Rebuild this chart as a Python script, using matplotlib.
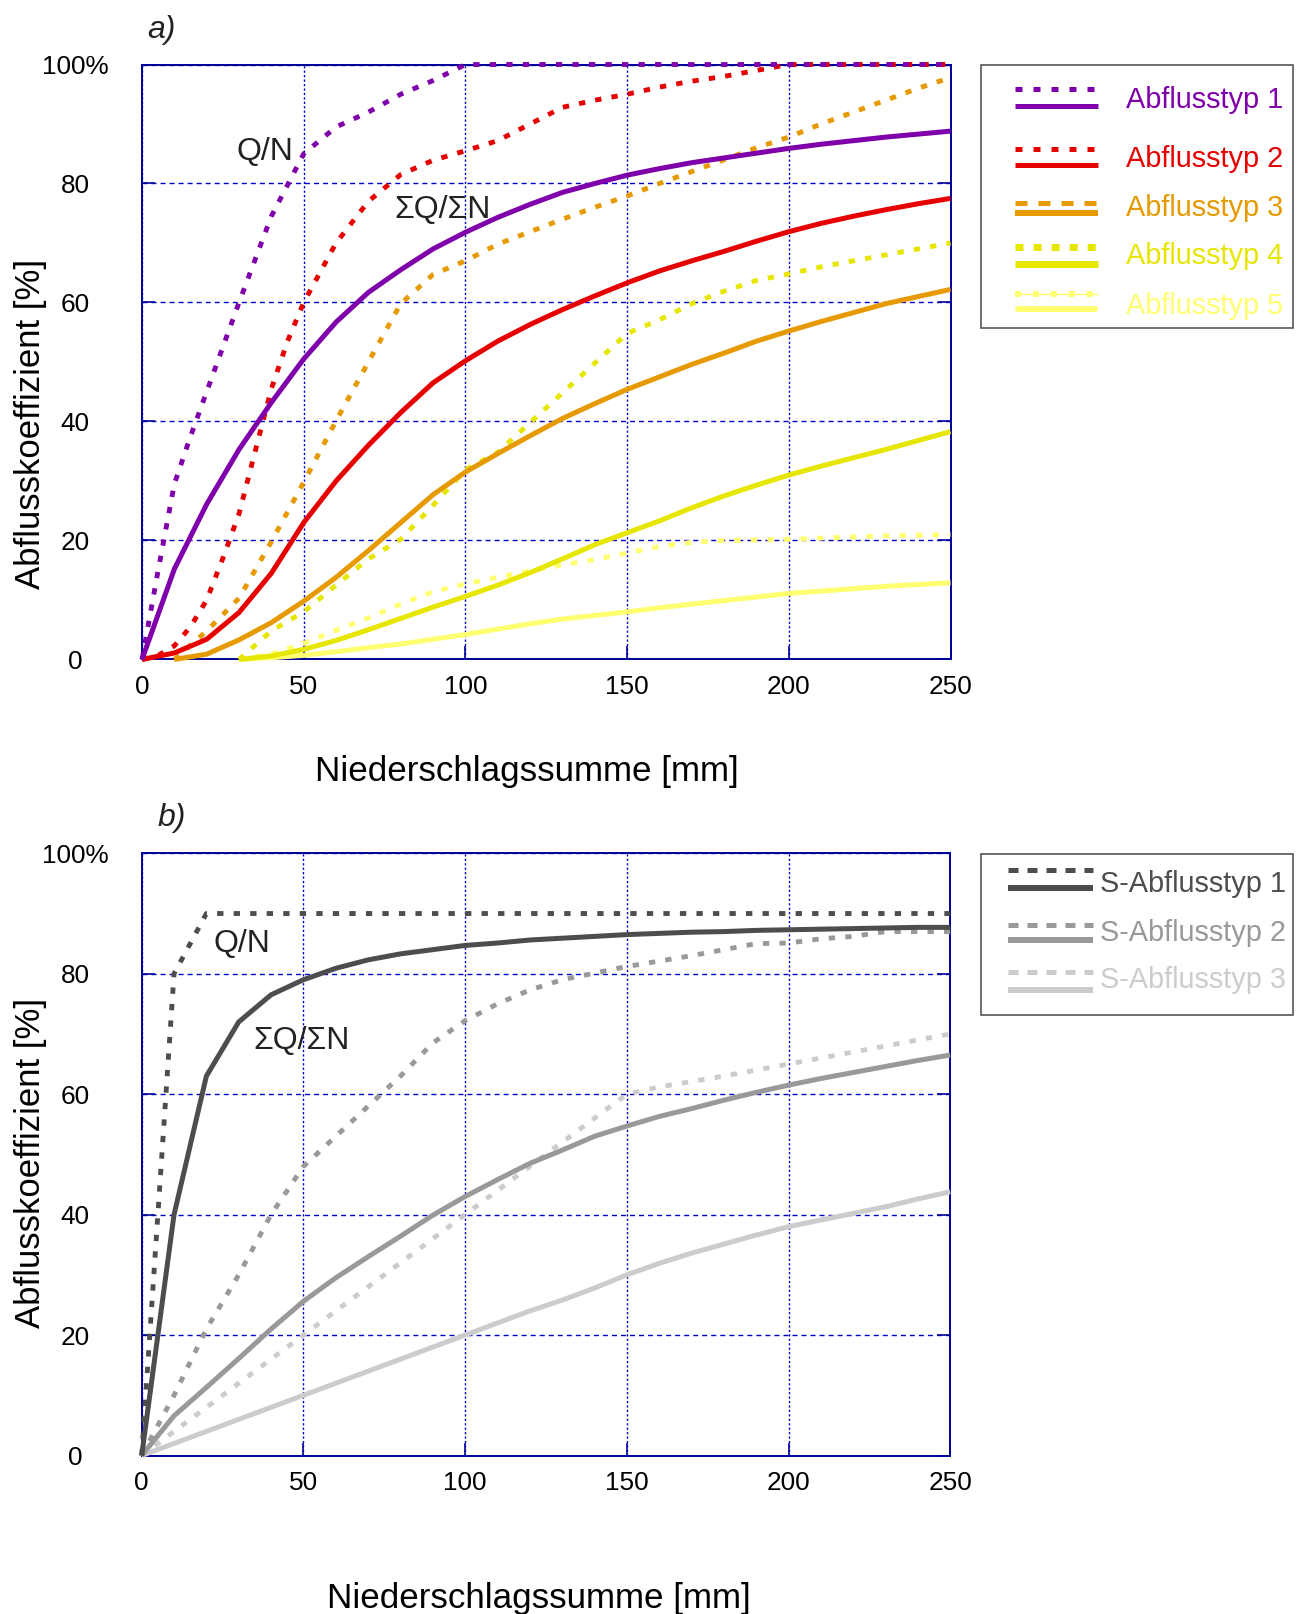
import matplotlib
matplotlib.use('Agg')
import matplotlib.pyplot as plt
from matplotlib.lines import Line2D
from matplotlib.patches import Rectangle

plt.rcParams['font.family'] = ['Liberation Sans', 'DejaVu Sans']

# ---------------- data ----------------
x_ticks = [0, 50, 100, 150, 200, 250]
y_ticks = [0, 20, 40, 60, 80, 100]
y_tick_labels = ['0', '20', '40', '60', '80', '100%']

xlabel = 'Niederschlagssumme [mm]'
ylabel = 'Abflusskoeffizient [%]'

# panel a) - Abflusstypen 1..5 ; "qn" = Q/N (dotted), "cum" = ΣQ/ΣN (solid)
a_names = ['Abflusstyp 1', 'Abflusstyp 2', 'Abflusstyp 3', 'Abflusstyp 4', 'Abflusstyp 5']
a_colors = ['#7F00AA', '#E60000', '#E69A00', '#E6E600', '#FFFF70']

a1_qn_x = [0, 5, 10, 15, 20, 30, 40, 50, 60, 70, 80, 90, 100, 250]
a1_qn_y = [0, 15, 29.5, 37.5, 45, 60, 74.5, 85, 89.5, 92, 95, 97.3, 100, 100]
a1_cum_x = list(range(0, 251, 10))
a1_cum_y = [0, 15.2, 26.1, 35.3, 43.2, 50.5, 56.7, 61.7, 65.5, 69, 71.8, 74.3, 76.5,
            78.5, 80, 81.4, 82.5, 83.5, 84.3, 85.1, 85.9, 86.6, 87.2, 87.8, 88.3, 88.8]

a2_qn_x = [0, 5, 10, 15, 20, 25, 30, 35, 40, 45, 50, 60, 70, 80, 90, 100, 110, 120,
           130, 140, 150, 160, 170, 180, 190, 200, 250]
a2_qn_y = [0, 0.7, 2.3, 5.5, 10, 17, 24.5, 35, 45.5, 53.5, 60, 70, 77, 81.5, 83.9, 85.5,
           87.2, 90, 92.8, 94, 95, 96.2, 97.2, 98, 99, 100, 100]
a2_cum_x = list(range(0, 251, 10))
a2_cum_y = [0, 1.1, 3.4, 7.9, 14.5, 23, 30, 36, 41.5, 46.5, 50.2, 53.5, 56.3, 58.8, 61.1,
            63.3, 65.3, 67, 68.6, 70.3, 71.9, 73.3, 74.5, 75.6, 76.6, 77.5]

a3_qn_x = list(range(10, 251, 10))
a3_qn_y = [0, 4.8, 10.3, 19.8, 29.8, 40.1, 50, 59.8, 64.7, 67, 69.8, 71.9, 74, 76, 77.9,
           80, 82, 84, 86, 87.8, 90, 92, 94, 96, 97.8]
a3_cum_x = list(range(10, 251, 10))
a3_cum_y = [0, 0.9, 3.3, 6.2, 9.8, 13.8, 18.3, 23, 27.7, 31.5, 34.6, 37.6, 40.5, 43, 45.4,
            47.5, 49.6, 51.5, 53.5, 55.2, 56.8, 58.3, 59.8, 61, 62.2]

a4_qn_x = list(range(30, 251, 10))
a4_qn_y = [0, 4.8, 8, 12.5, 16.9, 20.2, 25.9, 31.9, 34.8, 39.8, 44.8, 49.8, 54.8, 57.1,
           59.8, 61.9, 63.7, 64.8, 66, 67, 68, 69, 70]
a4_cum_x = list(range(30, 251, 10))
a4_cum_y = [0, 0.6, 1.7, 3.2, 5, 6.9, 8.8, 10.6, 12.5, 14.6, 16.9, 19.3, 21.3, 23.3, 25.5,
            27.5, 29.3, 31, 32.5, 33.9, 35.3, 36.8, 38.3]

a5_qn_x = list(range(30, 251, 10))
a5_qn_y = [0, 0.9, 2.7, 4.9, 7, 9.3, 11.4, 12.7, 13.8, 14.9, 15.9, 16.8, 17.9, 19, 19.7,
           20, 20.1, 20.2, 20.4, 20.6, 20.8, 20.9, 21]
a5_cum_x = list(range(30, 251, 10))
a5_cum_y = [0, 0.3, 0.7, 1.3, 2, 2.6, 3.4, 4.2, 5.1, 6, 6.8, 7.4, 8, 8.7, 9.3, 9.9, 10.5,
            11.1, 11.5, 11.9, 12.3, 12.6, 12.9]

# panel b) - S-Abflusstypen 1..3
b_names = ['S-Abflusstyp 1', 'S-Abflusstyp 2', 'S-Abflusstyp 3']
b_colors = ['#4D4D4D', '#999999', '#CCCCCC']

b1_qn_x = [0, 10, 20, 250]
b1_qn_y = [0, 80, 90, 90]
b1_cum_x = list(range(0, 251, 10))
b1_cum_y = [0, 40, 63, 72, 76.5, 79, 80.9, 82.3, 83.3, 84, 84.7, 85.1, 85.6, 85.9, 86.2,
            86.5, 86.7, 86.9, 87, 87.2, 87.3, 87.4, 87.5, 87.6, 87.7, 87.7]

b2_qn_x = list(range(0, 251, 10))
b2_qn_y = [0, 10, 21, 30, 40, 48, 53, 58, 63, 68.5, 72.2, 75, 77.3, 79, 80.1, 81.2, 82.1,
           83, 84, 85, 85.1, 85.8, 86.2, 87, 87, 87]
b2_cum_x = list(range(0, 251, 10))
b2_cum_y = [0, 6.6, 11.3, 16.1, 21, 25.6, 29.5, 33, 36.4, 39.9, 43, 45.8, 48.5, 50.7, 53,
            54.7, 56.3, 57.6, 59, 60.3, 61.5, 62.6, 63.6, 64.6, 65.6, 66.5]

b3_qn_x = list(range(0, 251, 10))
b3_qn_y = [0, 4, 8, 12, 16, 20, 24, 28, 32, 36, 40, 44, 48, 52, 56, 60, 61.2, 62.1, 63,
           64, 65, 66, 67, 68, 69, 70]
b3_cum_x = list(range(0, 251, 10))
b3_cum_y = [0, 2, 4, 6, 8, 10, 12, 14, 16, 18, 20, 22, 24, 25.8, 27.8, 30, 31.9, 33.6,
            35.1, 36.6, 38, 39.1, 40.2, 41.3, 42.6, 43.8]

# ---------------- figure ----------------
W, H = 1304, 1614
fig = plt.figure(figsize=(W / 100, H / 100), dpi=100)


def fx(px):
    return px / W


def fy(py):
    return 1 - py / H


GRID = '#0000CC'
SPINE = '#000099'
DOT = (0, (1.3, 2.1))


def style_axes(ax):
    ax.set_xlim(0, 250)
    ax.set_ylim(0, 100)
    ax.set_xticks(x_ticks)
    ax.set_yticks(y_ticks)
    ax.set_yticklabels(y_tick_labels)
    for s in ax.spines.values():
        s.set_color(SPINE)
        s.set_linewidth(1.4)
        s.set_zorder(2.5)
    ax.set_axisbelow(True)
    ax.xaxis.grid(True, color=GRID, lw=1.0, linestyle=(0, (1.6, 1.6)))
    ax.yaxis.grid(True, color=GRID, lw=1.0, linestyle=(0, (3.6, 2.9)))
    ax.tick_params(axis='both', direction='in', length=9.5, width=1.2, color=SPINE,
                   labelsize=18.8, labelcolor='black')
    ax.tick_params(axis='y', left=True, right=True, pad=48)
    ax.tick_params(axis='x', top=False, pad=11)
    plt.setp(ax.get_yticklabels(), ha='center')


def panel_lines(ax, series, colors):
    for (qx, qy, cx, cy), c in zip(series, colors):
        ax.plot(qx, qy, color=c, lw=3.5, linestyle=DOT, clip_on=False, zorder=3)
        ax.plot(cx, cy, color=c, lw=3.6, solid_capstyle='butt', clip_on=False, zorder=3)


# ----- panel a -----
axA = fig.add_axes([fx(142), fy(659.5), fx(950.5) - fx(142), fy(64.5) - fy(659.5)])
style_axes(axA)
a_series = [(a1_qn_x, a1_qn_y, a1_cum_x, a1_cum_y),
            (a2_qn_x, a2_qn_y, a2_cum_x, a2_cum_y),
            (a3_qn_x, a3_qn_y, a3_cum_x, a3_cum_y),
            (a4_qn_x, a4_qn_y, a4_cum_x, a4_cum_y),
            (a5_qn_x, a5_qn_y, a5_cum_x, a5_cum_y)]
panel_lines(axA, a_series[::-1], a_colors[::-1])
axA.text(38.0, 85.3, 'Q/N', fontsize=23, color='#222222', ha='center', va='center', zorder=4)
axA.text(92.8, 75.6, 'ΣQ/ΣN', fontsize=23, color='#222222', ha='center', va='center', zorder=4)
axA.set_xlabel(xlabel, fontsize=25.2, va='center')
axA.xaxis.set_label_coords(0.476, -0.188)
axA.set_ylabel(ylabel, fontsize=25, va='center')
axA.yaxis.set_label_coords(-0.138, 0.396)

# ----- panel b -----
axB = fig.add_axes([fx(141.7), fy(1455.5), fx(950.2) - fx(141.7), fy(853.3) - fy(1455.5)])
style_axes(axB)
b_series = [(b1_qn_x, b1_qn_y, b1_cum_x, b1_cum_y),
            (b2_qn_x, b2_qn_y, b2_cum_x, b2_cum_y),
            (b3_qn_x, b3_qn_y, b3_cum_x, b3_cum_y)]
panel_lines(axB, b_series[::-1], b_colors[::-1])
axB.text(30.9, 84.9, 'Q/N', fontsize=23, color='#222222', ha='center', va='center', zorder=4)
axB.text(49.3, 68.8, 'ΣQ/ΣN', fontsize=23, color='#222222', ha='center', va='center', zorder=4)
axB.set_xlabel(xlabel, fontsize=25.2, va='center')
axB.xaxis.set_label_coords(0.4915, -0.237)
axB.set_ylabel(ylabel, fontsize=25, va='center')
axB.yaxis.set_label_coords(-0.138, 0.4857)

# panel letters
fig.text(fx(161), fy(30), 'a)', fontsize=23, style='italic', color='#222222', ha='center', va='center')
fig.text(fx(171.5), fy(818), 'b)', fontsize=23, style='italic', color='#222222', ha='center', va='center')


# ---------------- legends (drawn manually) ----------------
def box(x0, y0, x1, y1):
    fig.add_artist(Rectangle((fx(x0), fy(y1)), fx(x1) - fx(x0), fy(y0) - fy(y1),
                             transform=fig.transFigure, fill=False,
                             edgecolor='#555555', lw=1.2))


def hline(x0, x1, y, **kw):
    fig.add_artist(Line2D([fx(x0), fx(x1)], [fy(y), fy(y)], transform=fig.transFigure, **kw))


# legend a
box(981, 64.7, 1293, 327.7)
a_rows = [(89.3, 106, 100.3), (149.3, 165, 158.7), (203.3, 213.3, 208.2),
          (246.7, 264, 256.5), (294.3, 309.3, 306)]
a_leg_dot = [dict(lw=3.6, linestyle=(0, (1.4, 2.2))),
             dict(lw=3.6, linestyle=(0, (1.4, 2.2))),
             dict(lw=3.6, linestyle=(0, (2.4, 2.2))),
             dict(lw=5.0, linestyle=(0, (1.15, 1.45))),
             dict(lw=4.3, linestyle=(0, (1.0, 2.0)))]
a_leg_solid = [3.6, 3.6, 4.3, 5.0, 4.3]
for i, (dy, sy, ty) in enumerate(a_rows):
    c = a_colors[i]
    if i == 4:
        hline(1015, 1098, dy, color=c, lw=1.0)
    hline(1015, 1098, dy, color=c, **a_leg_dot[i])
    hline(1015 if i < 4 else 1018, 1098 if i < 4 else 1095, sy, color=c,
          lw=a_leg_solid[i], solid_capstyle='butt' if i < 4 else 'round')
    fig.text(fx(1126), fy(ty), a_names[i], color=c, fontsize=20.8, ha='left', va='center')

# legend b
box(981, 854, 1293, 1015)
b_rows = [(870, 888.3, 884.5), (925, 940, 933), (971.7, 990, 979.5)]
for i, (dy, sy, ty) in enumerate(b_rows):
    c = b_colors[i]
    hline(1008, 1093, dy, color=c, lw=3.6, linestyle=(0, (2.0, 1.8)))
    hline(1008, 1093, sy, color=c, lw=4.3, solid_capstyle='butt')
    fig.text(fx(1100), fy(ty), b_names[i], color=c, fontsize=20.8, ha='left', va='center')

fig.savefig('out.png', dpi=100)
